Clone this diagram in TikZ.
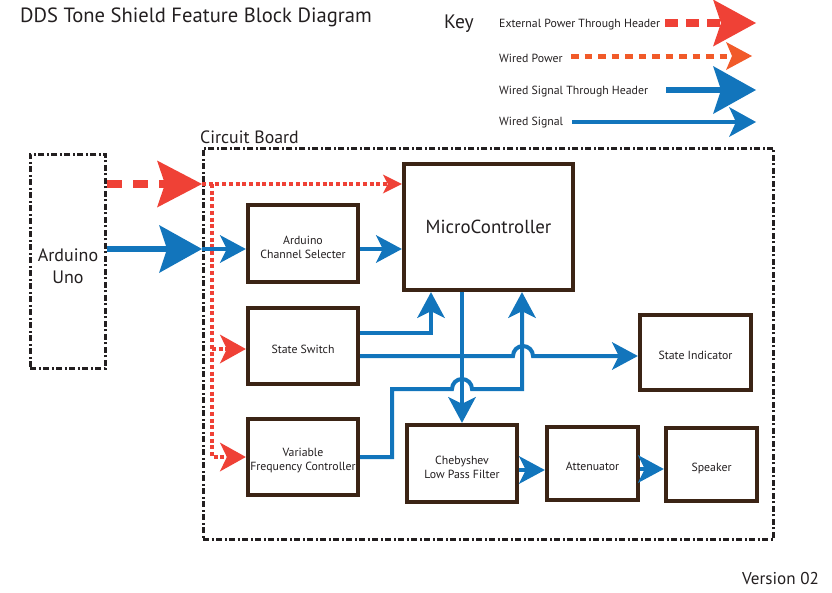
\documentclass[tikz,border=0pt]{standalone}
\usepackage{fontspec}
\setmainfont{PT Sans}
\usetikzlibrary{arrows.meta}
\definecolor{sigblue}{RGB}{18,117,188}
\definecolor{pwred}{RGB}{239,65,54}
\definecolor{pworange}{RGB}{241,90,41}
\definecolor{boxbrown}{RGB}{59,36,21}
\definecolor{inkdark}{RGB}{35,31,32}
\begin{document}
\begin{tikzpicture}[x=1pt,y=-1pt,
  every node/.style={text=inkdark},
  blk/.style={draw=boxbrown, line width=4.3pt, fill=white, align=center, inner sep=0pt,
    font=\fontsize{11.8}{14}\selectfont, text height=14pt, text depth=0pt},
  twolbl/.style={align=center, inner sep=0pt, text=inkdark,
    font=\fontsize{11.8}{14}\selectfont, yshift=-4pt},
  dashbox/.style={draw=inkdark, line width=2.7pt, inner sep=0pt,
    dash pattern=on 6pt off 2.5pt on 2pt off 2.5pt},
  lbl/.style={anchor=base west, inner sep=0pt},
  keyfont/.style={font=\fontsize{11.8}{13}\selectfont},
  sigline/.style={draw=sigblue, line width=4pt},
  sig/.style={sigline, -{Stealth[length=26pt,width=28pt,inset=7pt,line width=0pt]}},
  sighdr/.style={draw=sigblue, line width=5.5pt, -{Stealth[length=43pt,width=48pt,inset=8pt,line width=0pt]}},
  extpow/.style={draw=pwred, line width=7.5pt, dash pattern=on 15pt off 11pt,
    -{Stealth[length=45pt,width=47pt,inset=8pt,line width=0pt]}},
  wpow/.style={draw=pwred, line width=3.3pt, dash pattern=on 4pt off 2.7pt},
  wpowsmall/.style={wpow, -{Stealth[length=19pt,width=19pt,inset=5pt,line width=0pt]}},
  wpowmid/.style={wpow, -{Stealth[length=26pt,width=29pt,inset=7pt,line width=0pt]}},
]
\useasboundingbox (0,0) rectangle (832,592);

% titles and key
\node[lbl, font=\fontsize{20.6}{24}\selectfont] (title) at (20,22) {DDS Tone Shield Feature Block Diagram};
\node[lbl, font=\fontsize{19.5}{21}\selectfont] (keyt) at (444,28) {Key};
\node[lbl, keyfont] (k1) at (499,27) {External Power Through Header};
\node[lbl, keyfont] (k2) at (499,62) {Wired Power};
\node[lbl, keyfont] (k3) at (499,94) {Wired Signal Through Header};
\node[lbl, keyfont] (k4) at (499,125) {Wired Signal};
\coordinate (k1a) at (665,23); \coordinate (k1b) at (756,23);
\coordinate (k2a) at (571,56); \coordinate (k2b) at (752,56);
\coordinate (k3a) at (666,90); \coordinate (k3b) at (756,90);
\coordinate (k4a) at (572,122); \coordinate (k4b) at (756,122);
\draw[draw=pwred, line width=8pt, dash pattern=on 12.5pt off 8.5pt,
  -{Stealth[length=43pt,width=47pt,inset=8pt,line width=0pt]}] (k1a) -- (k1b);
\draw[draw=pworange, line width=5pt, dash pattern=on 7.5pt off 6pt,
  -{Stealth[length=26pt,width=28pt,inset=6pt,line width=0pt]}] (k2a) -- (k2b);
\draw[draw=sigblue, line width=6pt,
  -{Stealth[length=43pt,width=48pt,inset=8pt,line width=0pt]}] (k3a) -- (k3b);
\draw[draw=sigblue, line width=4pt,
  -{Stealth[length=27pt,width=30pt,inset=7pt,line width=0pt]}] (k4a) -- (k4b);

\node[lbl, font=\fontsize{17.8}{20}\selectfont] (cbl) at (200,143) {Circuit Board};
\node[lbl, font=\fontsize{17.1}{19}\selectfont] (ver) at (742,584) {Version 02};

% frames
\node[dashbox, minimum width=570.3pt, minimum height=391.3pt] (board) at (488.5,344) {};
\node[dashbox, minimum width=75.3pt, minimum height=214.3pt,
  label={[twolbl, font=\fontsize{18}{22}\selectfont, yshift=-1pt]center:{Arduino\\Uno}}] (ard) at (68,261.5) {};

% blocks
\node[blk, minimum width=169pt, minimum height=126pt, font=\fontsize{18.9}{21}\selectfont, text height=13pt] (mc) at (488.5,227) {MicroController};
\node[blk, minimum width=110pt, minimum height=77pt,
  label={[twolbl]center:{Arduino\\Channel Selecter}}] (acs) at (303,243.5) {};
\node[blk, minimum width=110pt, minimum height=76pt] (ss) at (303,346) {State Switch};
\node[blk, minimum width=110pt, minimum height=76pt,
  label={[twolbl]center:{Variable\\Frequency Controller}}] (vfc) at (303,457) {};
\node[blk, minimum width=110pt, minimum height=77pt,
  label={[twolbl]center:{Chebyshev\\Low Pass Filter}}] (cheb) at (462,463.5) {};
\node[blk, minimum width=91pt, minimum height=73pt] (att) at (592.5,463.5) {Attenuator};
\node[blk, minimum width=91pt, minimum height=73pt] (spk) at (711.5,464.5) {Speaker};
\node[blk, minimum width=111pt, minimum height=75pt] (si) at (695.5,352.5) {State Indicator};

% rows
\coordinate (pwr) at (0,184);
\coordinate (hdr) at (0,249);
\coordinate (tap) at (212,184);

% header connectors
\draw[extpow] (ard.east |- pwr) -- (board.west |- pwr);
\draw[sighdr] (ard.east |- hdr) -- (board.west |- hdr);

% power wiring
\draw[wpowsmall] (board.west |- pwr) -- (mc.west |- pwr);
\draw[wpowmid] (tap) |- (vfc.west);
\draw[wpowmid] (tap |- 0,349) -- (ss.west |- 0,349);

% signals
\draw[sig] (board.west |- hdr) -- (acs.west |- hdr);
\draw[sig] (acs.east |- hdr) -- (mc.west |- hdr);
\draw[sig] (ss.east |- 0,333) -| ([xshift=-57.5pt]mc.south);
\draw[sig] (ss.east |- 0,356) -- (513,356) arc[start angle=180,end angle=360,radius=10] -- (si.west |- 0,356);
\draw[sig] (cheb.north |- mc.south) -- (cheb.north);
\draw[sig] (vfc.east) -- (392,457) -- (392,389) -- (452,389) arc[start angle=180,end angle=360,radius=10] -- (522,389) -- ([xshift=33.5pt]mc.south);
\draw[sig] (cheb.east |- 0,470) -- (att.west |- 0,470);
\draw[sig] (att.east |- 0,469) -- (spk.west |- 0,469);
\end{tikzpicture}
\end{document}
